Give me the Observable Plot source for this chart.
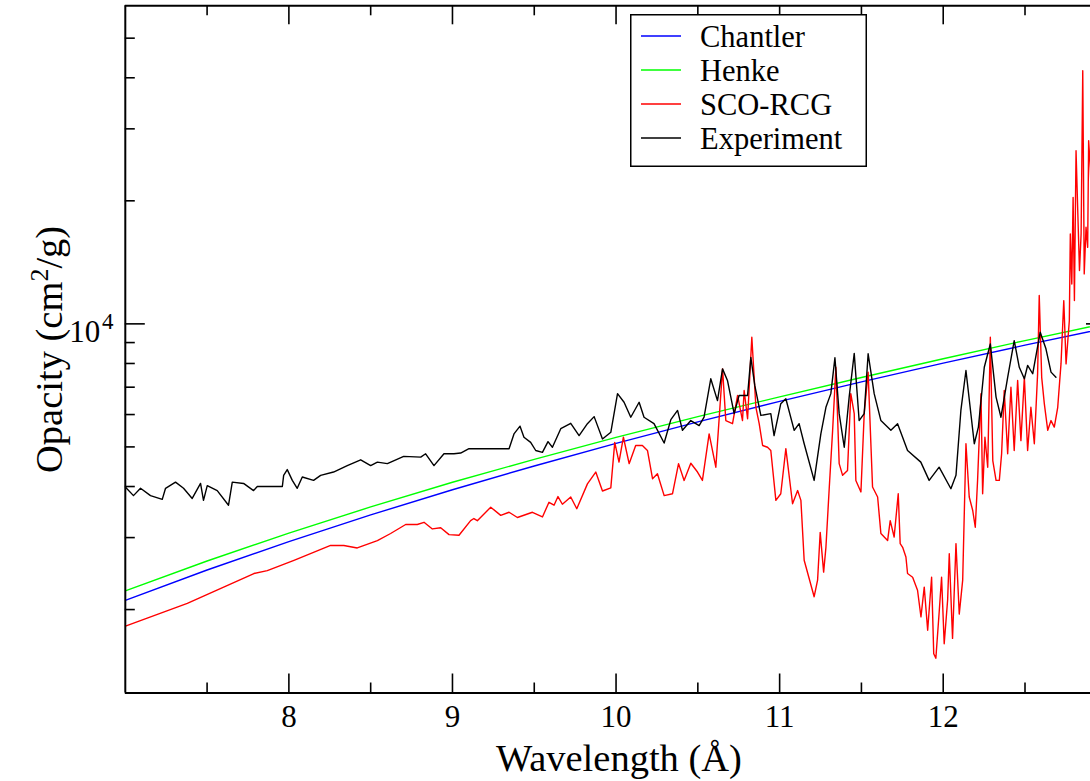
<!DOCTYPE html>
<html><head><meta charset="utf-8">
<script src="https://cdn.jsdelivr.net/npm/d3@7"></script>
<script src="https://cdn.jsdelivr.net/npm/@observablehq/plot@0.6"></script>
<style>
body{margin:0;background:#fff;}
#wrap{position:relative;width:1090px;height:781px;overflow:hidden;background:#fff;}
#legend{position:absolute;left:630px;top:14px;}
</style></head>
<body><div id="wrap"></div>
<script>
// ---- data (wavelength in Å, opacity in cm^2/g) ----
const chantlerWl = [7, 7.5, 8, 8.5, 9, 9.5, 10, 10.5, 11, 11.5, 12, 12.5, 13];
const chantlerOp = [2106, 2499, 2933, 3409, 3928, 4491, 5101, 5757, 6461, 7214, 8016, 8870, 9776];
const henkeWl = [7, 7.5, 8, 8.5, 9, 9.5, 10, 10.5, 11, 11.5, 12, 12.5, 13];
const henkeOp = [2222, 2629, 3077, 3566, 4097, 4662, 5274, 5930, 6629, 7394, 8216, 9101, 10040];
const scoWl = [7.001,7.379,7.786,7.868,8.031,8.255,8.336,8.418,8.541,8.622,8.714,8.785,8.826,8.877,8.928,8.979,9.040,9.111,9.131,9.152,9.234,9.295,9.346,9.397,9.489,9.550,9.590,9.621,9.645,9.672,9.723,9.760,9.825,9.876,9.917,9.968,9.992,10.018,10.045,10.080,10.120,10.161,10.192,10.223,10.253,10.294,10.345,10.382,10.416,10.457,10.498,10.528,10.569,10.610,10.651,10.671,10.712,10.743,10.773,10.783,10.804,10.830,10.855,10.875,10.896,10.926,10.946,10.977,11.007,11.038,11.079,11.110,11.130,11.150,11.211,11.232,11.248,11.269,11.283,11.303,11.324,11.344,11.364,11.385,11.415,11.435,11.456,11.466,11.497,11.517,11.541,11.568,11.599,11.619,11.660,11.676,11.700,11.725,11.737,11.752,11.772,11.782,11.813,11.843,11.864,11.884,11.905,11.929,11.942,11.955,11.976,11.990,12.006,12.027,12.037,12.057,12.078,12.098,12.119,12.139,12.159,12.180,12.196,12.210,12.231,12.241,12.255,12.272,12.288,12.303,12.323,12.343,12.357,12.373,12.394,12.414,12.434,12.455,12.475,12.496,12.516,12.536,12.557,12.577,12.587,12.602,12.618,12.639,12.659,12.679,12.700,12.720,12.737,12.751,12.771,12.777,12.786,12.794,12.802,12.812,12.823,12.833,12.843,12.853,12.862,12.873,12.883,12.889,12.899,12.906];
const scoOp = [1822,2070,2450,2490,2640,2870,2870,2830,2950,3070,3230,3230,3270,3150,3170,3050,3040,3300,3340,3300,3560,3400,3460,3360,3460,3370,3660,3600,3780,3620,3770,3530,4060,4340,3900,3970,5130,4590,5280,4550,5040,5040,4900,4180,4300,3800,3840,4550,4140,4560,4340,4140,5380,4460,7760,5800,5700,6680,5800,6870,5860,9270,6250,5700,5040,4990,4900,3700,3840,4950,3630,3910,3700,2640,2150,2360,3090,2470,2840,3950,5490,7830,4550,4260,4380,6750,6030,4140,3880,6030,7620,3990,3770,3070,2950,3300,3010,3840,2900,2840,2690,2450,2400,2230,1920,2270,1780,2400,1560,1520,1990,2400,1650,2110,2740,1700,2900,1950,2360,5090,3770,3500,3180,4140,6750,3840,5280,4460,9270,4630,4140,4140,4810,6870,4810,7000,4900,7270,5180,7400,4900,6250,5090,7550,11730,7400,6380,5490,5800,5590,6250,7980,11400,7980,10190,16600,12520,20390,11400,26530,18580,13500,16600,41630,13250,17230,15390,28070,24150,20020];
const expWl = [7.00,7.05,7.093,7.154,7.226,7.246,7.307,7.356,7.409,7.460,7.478,7.501,7.562,7.631,7.654,7.723,7.784,7.807,7.960,7.968,7.990,8.021,8.051,8.082,8.151,8.194,8.273,8.357,8.439,8.500,8.541,8.602,8.702,8.806,8.836,8.887,8.948,9.009,9.050,9.101,9.346,9.376,9.413,9.437,9.478,9.509,9.550,9.584,9.611,9.662,9.723,9.774,9.825,9.866,9.917,9.968,10.009,10.049,10.090,10.141,10.171,10.232,10.294,10.335,10.376,10.406,10.457,10.508,10.538,10.579,10.620,10.651,10.681,10.722,10.752,10.804,10.824,10.848,10.885,10.946,10.966,11.007,11.038,11.089,11.119,11.150,11.211,11.252,11.283,11.313,11.338,11.364,11.395,11.425,11.456,11.486,11.517,11.541,11.578,11.619,11.680,11.721,11.782,11.863,11.914,11.975,12.047,12.078,12.108,12.139,12.190,12.215,12.251,12.288,12.323,12.353,12.394,12.434,12.465,12.496,12.516,12.547,12.593,12.628,12.659,12.689];
const expOp = [3990,3800,3960,3800,3720,3960,4100,3960,3740,4070,3700,4020,3910,3600,4100,4070,3910,4000,4000,4260,4400,4140,3960,4220,4140,4260,4340,4500,4650,4500,4590,4550,4740,4720,4810,4500,4810,4810,4830,4950,4950,5380,5620,5280,5130,4900,4850,5150,4990,5540,5710,5330,5700,5930,5230,5430,6750,6430,5910,6430,5910,5700,5110,5830,6140,5490,5800,5640,5910,7340,6490,7760,7270,6030,6680,6680,8280,7070,5970,6030,5330,6380,6560,5490,5700,5090,4140,5380,6250,6750,8260,6030,4990,6620,8470,5800,6030,8450,6750,5800,5490,5700,4900,4590,4140,4460,3950,4260,6140,7690,5090,5590,7830,8930,6620,5910,7400,9100,7830,7340,7910,7550,9540,8690,7620,7400];

const seriesNames = ["Chantler", "Henke", "SCO-RCG", "Experiment"];
const seriesColors = ["#0000ff", "#00ff00", "#ff0000", "#000000"];
const seriesWl = [chantlerWl, henkeWl, scoWl, expWl];
const seriesOp = [chantlerOp, henkeOp, scoOp, expOp];

const xMajor = [8, 9, 10, 11, 12];
const xTickLabels = ["8", "9", "10", "11", "12"];
const xMinor = [7.5, 8.5, 9.5, 10.5, 11.5, 12.5];
const yMajor = [10000];
const yTickBase = "10", yTickExp = "4";
const yMinor = [2000, 3000, 4000, 5000, 6000, 7000, 8000, 9000, 20000, 30000, 40000, 50000];
const xLabel = "Wavelength (Å)";
const yLabelParts = ["Opacity (cm", "2", "/g)"];

// ---- layout ----
const W = 1090, H = 781, L = 124.8, T = 5.3, B = 692.5, R = 1106.3;
const frameW = W - L, frameH = B - T;
const font = "'Liberation Serif','Times New Roman',serif";

const rows = seriesNames.flatMap((n, k) => seriesWl[k].map((w, i) => ({series: n, wl: w, op: seriesOp[k][i]})));

const chart = Plot.plot({
  width: W, height: H,
  marginLeft: L, marginRight: 0, marginTop: T, marginBottom: H - B,
  style: {fontFamily: font, background: "white", color: "#000"},
  x: {type: "linear", domain: [7, 13], range: [L, R], axis: null},
  y: {type: "log", domain: [1250, 60000], range: [B, T], axis: null},
  marks: [
    ...seriesNames.map((n, k) => Plot.line(rows.filter(r => r.series === n), {
      x: "wl", y: "op", stroke: seriesColors[k], strokeWidth: 1.4, clip: true
    })),
    // frame
    Plot.ruleX([7], {stroke: "#000", strokeWidth: 2}),
    Plot.ruleY([1250], {stroke: "#000", strokeWidth: 2}),
    Plot.ruleY([60000], {stroke: "#000", strokeWidth: 2}),
    // x ticks (inward, bottom and top)
    Plot.tickX(xMajor, {x: d => d, insetTop: frameH - 19, stroke: "#000", strokeWidth: 1.6}),
    Plot.tickX(xMinor, {x: d => d, insetTop: frameH - 10, stroke: "#000", strokeWidth: 1.6}),
    Plot.tickX(xMajor, {x: d => d, insetBottom: frameH - 19, stroke: "#000", strokeWidth: 1.6}),
    Plot.tickX(xMinor, {x: d => d, insetBottom: frameH - 10, stroke: "#000", strokeWidth: 1.6}),
    // y ticks (inward, left, and stub of right)
    Plot.tickY(yMajor, {y: d => d, insetRight: frameW - 20, stroke: "#000", strokeWidth: 1.6}),
    Plot.tickY(yMinor, {y: d => d, insetRight: frameW - 10, stroke: "#000", strokeWidth: 1.6}),
    Plot.tickY(yMajor, {y: d => d, insetLeft: frameW - 4, stroke: "#000", strokeWidth: 1.6}),
    // tick labels
    Plot.text(xMajor, {x: d => d, text: (d, i) => xTickLabels[i], frameAnchor: "bottom", lineAnchor: "bottom", dy: 34, fontSize: 31, fill: "#000"}),
    Plot.text(yMajor, {y: d => d, text: () => yTickBase, frameAnchor: "left", textAnchor: "end", lineAnchor: "bottom", dx: -25, dy: 18.4, fontSize: 31, fill: "#000"}),
    Plot.text(yMajor, {y: d => d, text: () => yTickExp, frameAnchor: "left", textAnchor: "start", lineAnchor: "bottom", dx: -23.3, dy: 5, fontSize: 23, fill: "#000"}),
    // axis labels
    Plot.text([xLabel], {frameAnchor: "bottom", lineAnchor: "bottom", dx: 11, dy: 78, fontSize: 38.5, fill: "#000"}),
    Plot.text([yLabelParts.join("")], {frameAnchor: "left", rotate: -90, lineAnchor: "bottom", textAnchor: "middle", dx: 61 - L, dy: 0, fontSize: 38.5, fill: "#000"})
  ]
});

// superscript in the y label
d3.select(chart).selectAll("text").filter(function () { return this.textContent === yLabelParts.join(""); })
  .each(function () {
    const t = d3.select(this);
    t.text(null);
    t.append("tspan").text(yLabelParts[0]);
    t.append("tspan").attr("dy", -14).attr("font-size", 26).text(yLabelParts[1]);
    t.append("tspan").attr("dy", 14).text(yLabelParts[2]);
  });

const wrap = document.getElementById("wrap");
wrap.appendChild(chart);

// legend (inside the plot area, top)
const rowStep = 34;
const lg = d3.create("svg").attr("id", "legend").attr("width", 239).attr("height", 154)
  .style("font-family", font);
lg.append("rect").attr("x", 0.75).attr("y", 0.75).attr("width", 235.5).attr("height", 151.5)
  .attr("fill", "#fff").attr("stroke", "#000").attr("stroke-width", 1.5);
seriesNames.forEach((n, k) => {
  const base = 33 + rowStep * k;
  lg.append("line").attr("x1", 11).attr("x2", 51).attr("y1", base - 11).attr("y2", base - 11)
    .attr("stroke", seriesColors[k]).attr("stroke-width", 1.4);
  lg.append("text").attr("x", 70).attr("y", base).attr("font-size", 30.5).attr("fill", "#000")
    .attr("textLength", null).text(n);
});
wrap.appendChild(lg.node());
</script>
</body></html>
